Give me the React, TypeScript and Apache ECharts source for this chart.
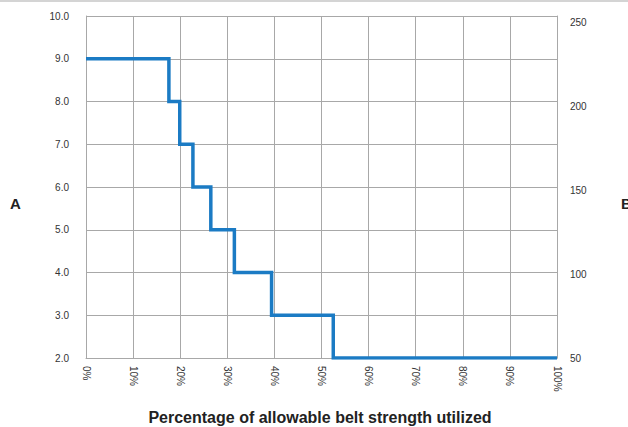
import React, { useEffect, useRef } from "react";
import * as echarts from "echarts";

const stepX = [0, 17.6, 19.9, 22.7, 26.5, 31.5, 39.4, 52.5, 100];
const stepY = [9, 8, 7, 6, 5, 4, 3, 2, 2];
const xTicks = { min: 0, max: 100, interval: 10 };
const leftTicks = { min: 2, max: 10, interval: 1 };
const rightTicks = { min: 50, max: 254, interval: 50 };
const xTitle = "Percentage of allowable belt strength utilized";
const leftName = "A";
const rightName = "B";

export default function App() {
  const ref = useRef<HTMLDivElement>(null);
  useEffect(() => {
    if (!ref.current) return;
    const chart = echarts.init(ref.current, null, { renderer: "svg" });
    const labelStyle = { color: "#333", fontSize: 10, fontFamily: "Liberation Sans, Arial, sans-serif" };
    const gridColor = "#a8a8a8";
    chart.setOption({
      animation: false,
      backgroundColor: "#fff",
      grid: { left: 86, right: 71, top: 16, bottom: 69 },
      graphic: [
        { type: "rect", left: 0, top: 0, shape: { width: 628, height: 2 }, style: { fill: "#d4d4d4" } },
        {
          type: "text",
          x: 320,
          y: 417,
          style: {
            text: xTitle,
            align: "center",
            verticalAlign: "middle",
            font: "bold 16px 'Liberation Sans Narrow', 'Liberation Sans', Arial, sans-serif",
            fill: "#222",
          },
        },
        {
          type: "text",
          left: 10,
          top: 196,
          style: {
            text: leftName,
            font: "bold 15px 'Liberation Sans', sans-serif",
            fill: "#222",
          },
        },
        {
          type: "text",
          left: 621,
          top: 196,
          style: {
            text: rightName,
            font: "bold 15px 'Liberation Sans', sans-serif",
            fill: "#222",
          },
        },
      ],
      xAxis: {
        type: "value",
        ...xTicks,
        axisLine: { show: true, lineStyle: { color: gridColor } },
        axisTick: { show: false },
        splitLine: { show: true, lineStyle: { color: gridColor, width: 1 } },
        axisLabel: {
          ...labelStyle,
          rotate: -90,
          margin: 8,
          formatter: (v: number) => `${v}%`,
        },
      },
      yAxis: [
        {
          type: "value",
          ...leftTicks,
          position: "left",
          axisLine: { show: true, lineStyle: { color: gridColor } },
          axisTick: { show: false },
          splitLine: { show: true, lineStyle: { color: gridColor, width: 1 } },
          axisLabel: { ...labelStyle, margin: 17, formatter: (v: number) => v.toFixed(1) },
        },
        {
          type: "value",
          ...rightTicks,
          position: "right",
          axisLine: { show: true, lineStyle: { color: gridColor } },
          axisTick: { show: false },
          splitLine: { show: false },
          axisLabel: { ...labelStyle, margin: 13, showMaxLabel: false },
        },
      ],
      series: [
        {
          type: "line",
          step: "end",
          yAxisIndex: 0,
          symbol: "none",
          data: stepX.map((x, i) => [x, stepY[i]]),
          lineStyle: { color: "#1b7bc4", width: 3.5, join: "miter" },
        },
      ],
    });
    return () => chart.dispose();
  }, []);
  return <div ref={ref} style={{ width: 628, height: 427, position: "absolute", left: 0, top: 0 }} />;
}
